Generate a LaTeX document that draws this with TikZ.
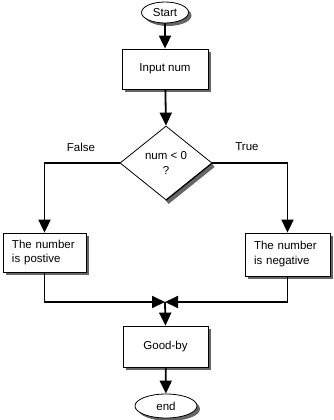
\documentclass[tikz,border=0pt]{standalone}
\usepackage{fontspec}
\setmainfont{Liberation Sans}
\usetikzlibrary{arrows.meta,shapes.geometric,shadows,calc}
\begin{document}
\begin{tikzpicture}[x=1pt,y=-1pt,
  font=\fontsize{11.5}{14}\selectfont,
  shad/.style={drop shadow={shadow xshift=3pt,shadow yshift=-3pt,fill=black!60,opacity=1}},
  term/.style={ellipse,draw,line width=0.8pt,fill=white,inner sep=0pt,shad},
  proc/.style={rectangle,draw,line width=0.8pt,fill=white,inner sep=0pt,shad},
  textbox/.style={rectangle,draw,line width=0.8pt,fill=white,shad,align=left,inner xsep=9pt,inner ysep=0pt},
  decis/.style={diamond,draw,line width=0.8pt,fill=white,inner sep=0pt,align=center,minimum width=92pt,minimum height=74pt},
  conn/.style={line width=1.8pt,-{Triangle[length=13pt,width=12pt]}},
  dshadow/.style={draw=black!60,line width=5pt},
  lbl/.style={inner sep=0pt}
]
\fill[white] (0,0) rectangle (334,420);
\useasboundingbox (0,0) rectangle (334,420);

\node[term,minimum width=47pt,minimum height=21pt] (start) at (165,12.5) {Start};
\node[proc,minimum width=86pt,minimum height=40pt] (input) at (165,69) {Input num};
\draw[dshadow] (213,165) -- (167,202);
\node[decis] (dia) at (166,163) {num < 0\\[1pt]?};
\draw[line width=0.8pt] (dia.east) -- (dia.south);
\node[textbox,text width=65pt,minimum width=83pt,minimum height=39pt] (left) at (44.5,252.5) {The number\\is postive};
\node[textbox,text width=67pt,minimum width=85pt,minimum height=43pt] (right) at (287.5,254.5) {The number\\[1pt]is negative};
\node[proc,minimum width=85pt,minimum height=41pt] (good) at (165.5,346.5) {Good-by};
\node[term,minimum width=62pt,minimum height=24pt] (end) at (166,406) {end};
\coordinate (j) at (165,302);

\node[lbl] (false) at (81,147) {False};
\node[lbl] (true) at (247,147) {True};

\draw[conn] (start) -- (input);
\draw[conn] (input) -- (dia.north);
\draw[conn] (dia.west) -| (left.north);
\draw[conn] (dia.east) -| (right.north);
\draw[conn] (left.south) |- (j);
\draw[conn] (right.south) |- (j);
\draw[conn] (j) -- (good.north);
\draw[conn] (good) -- (end);
\end{tikzpicture}
\end{document}
